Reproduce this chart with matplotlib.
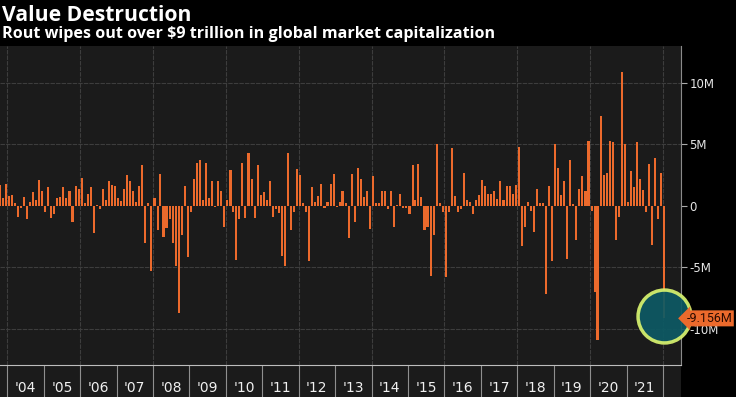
import pandas as pd
from matplotlib import pyplot as plt
from matplotlib.ticker import FuncFormatter, MultipleLocator

# variation mensuelle de la capitalisation mondiale (en M), oct. 2003 -> janv. 2022
values = [
    1.7, 0.6, 1.8, 0.8, 0.9, 0.2, -0.9, -0.2, 0.7, -1.1, 0.35, 1.1,
    0.5, 2.1, 1.2, -0.5, 1.5, -1.0, -0.7, 0.6, 0.7, 1.5, 0.6, 1.2,
    -1.3, 1.6, 1.4, 2.3, 0.2, 1.0, 1.5, -2.2, 0.1, -0.3, 1.4, 0.5,
    2.0, 1.7, 1.6, 0.6, 0.4, 1.4, 2.5, 2.0, 1.2,
    0.35, 1.6, 3.3, -3.0, 0.2, -5.3, 0.6, -2.0, 2.6, -2.5, -1.8,
    -1.1, -3.0, -4.9, -8.7, -2.4, 1.6, -4.2, -0.5, 2.2, 3.5, 3.7, 0.5,
    3.5, 0.6, 2.0, -0.1, 2.0, 1.2, -1.7, 0.5, 2.9, -0.5, -4.4, -1.1,
    3.5, -1.0, 4.3, 2.2, -1.0, 3.3, 0.9, 1.1, 0.5,
    2.0, -0.9, -0.3, -0.6, -4.1, -4.9, 4.3, -2.0, -0.5, 3.0, 2.5, 0.2,
    -0.5, -4.5, 1.5, 0.35, 0.8, 1.8, -0.2, 0.35, 1.8, 2.6, -0.1, 0.35,
    1.2, 0.2, -2.6, 2.6, -1.3, 3.1, 2.2, 0.7, 1.2, -1.9, 2.4, 0.2,
    0.2, 1.2, 1.2, -0.3, 1.2, -1.7, 0.1, 1.0, -0.2,
    -0.2, -0.7, 3.3, 0.5, 3.4, 0.7, -2.0, -1.7, -5.7, -2.4, 5.0, 0.2,
    -0.5, -5.8, -0.5, 4.7, 0.8, -0.5, -0.3, 2.7, 0.5, 0.3, -0.65, 0.5,
    0.9, 2.1, 1.6, 1.0, 1.0, 1.2, 0.55, 2.0, 0.5, 1.6, 1.6, 0.95,
    1.7, 4.8, -3.3, -1.7, 0.35, -0.4, -2.1, 1.35, 0.2,
    0.2, -7.2, 1.6, -4.5, 5.0, 3.1, 0.9, 2.0, -4.3, 3.7, 0.15, -2.8,
    1.4, 2.4, 1.2, 5.3, -0.4, -7.0, -10.9, 7.3, 2.5, 2.7, 5.3, 5.2,
    -2.8, -0.9, 10.9, 5.0, 0.35, 2.8, 1.5, 5.2, 2.2, 1.3, -0.5, 3.4,
    -3.2, 3.9, -1.1, 2.7, -9.156,
]
dates = pd.date_range(end='2022-01-01', periods=len(values), freq='MS')
year_labels = ["'%02d" % (y % 100) for y in range(2004, 2022)]
last_label = '-9.156M'

bg = '#000000'
panel = '#1b1b1b'
orange = '#ec6a2c'
grid = '#3d3d3d'

fig = plt.figure(figsize=(7.36, 3.97), dpi=100, facecolor=bg)
ax = fig.add_axes([0, 32 / 397, 681 / 736, 319 / 397], facecolor=panel)
band = fig.add_axes([0, 0, 681 / 736, 32 / 397], facecolor=panel, sharex=ax)

centres = dates + pd.Timedelta(days=15)
ax.bar(centres, values, width=21, color=orange, linewidth=0, zorder=3)

ax.set_xlim(pd.Timestamp('2003-10-20'), pd.Timestamp('2022-07-01'))
ax.set_ylim(-12.95, 13.0)

# grille
for v in (-10, -5, 5, 10):
    ax.axhline(v, color=grid, lw=0.8, ls=(0, (4, 1)), zorder=1)
for y in range(2004, 2023, 2):
    ax.axvline(pd.Timestamp(f'{y}-01-01'), color=grid, lw=0.8, ls=(0, (4, 1)), zorder=1)

# axe y à droite
ax.yaxis.tick_right()
ax.yaxis.set_major_locator(MultipleLocator(5))
ax.yaxis.set_major_formatter(FuncFormatter(lambda v, p: '0' if v == 0 else f'{v:g}M'))
ax.tick_params(axis='y', colors='#e6e6e6', labelsize=8.5, length=4, width=0.8, pad=2)
ax.tick_params(axis='y', color='#aaaaaa')
ax.tick_params(axis='x', bottom=False, labelbottom=False)
for side in ('top', 'left', 'bottom'):
    ax.spines[side].set_visible(False)
ax.spines['right'].set_color('#8a8a8a')

# bande des années
band.set_ylim(0, 1)
band.set_yticks([])
band.tick_params(axis='x', bottom=False, labelbottom=False)
for side in ('left', 'right', 'bottom'):
    band.spines[side].set_visible(False)
band.spines['top'].set_color('#bdbdbd')
for y in range(2004, 2023):
    band.axvline(pd.Timestamp(f'{y}-01-01'), color='#8f8f8f', lw=0.8)
for y, lab in zip(range(2004, 2022), year_labels):
    band.text(pd.Timestamp(f'{y}-07-01'), 0.28, lab, color='#f0f0f0', fontsize=10,
              ha='center', va='center')

# cercle + étiquette de la dernière valeur
ax.scatter([centres[-1]], [-9.0], s=1450, facecolor='#0d5a64', edgecolor='#d9f36e',
           linewidth=2.5, alpha=0.92, zorder=4, clip_on=False)
ax.annotate(last_label, xy=(1.0, -9.156), xycoords=('axes fraction', 'data'),
            xytext=(4, 0), textcoords='offset points', ha='left', va='center',
            fontsize=9, color='#2a0a00', family='Roboto',
            bbox=dict(boxstyle='larrow,pad=0.12', fc=orange, ec='none'),
            zorder=6, annotation_clip=False)

fig.text(0.003, 1 - 21 / 397, 'Value Destruction', color='white', fontsize=15.2,
         fontweight='bold', va='baseline', ha='left', family='Open Sans')
fig.text(0.003, 1 - 38 / 397, 'Rout wipes out over $9 trillion in global market capitalization',
         color='white', fontsize=11.6, fontweight='bold', va='baseline', ha='left',
         family='Open Sans')

fig.savefig('out.png', dpi=100, facecolor=bg)
